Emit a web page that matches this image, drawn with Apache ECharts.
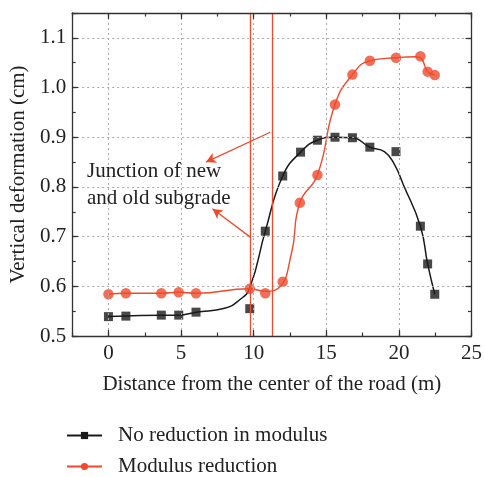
<!DOCTYPE html>
<html>
<head>
<meta charset="utf-8">
<script src="https://cdn.jsdelivr.net/npm/echarts@6/dist/echarts.min.js"></script>
<style>html,body{margin:0;padding:0;background:#fff}#c{width:485px;height:477px}</style>
</head>
<body>
<div id="c"></div>
<script>
// ---- data ----
const seriesNames = ['No reduction in modulus', 'Modulus reduction'];
// measured points
const noRedX = [0, 1.2, 3.64, 4.84, 6.03, 9.73, 10.8, 12.0, 13.23, 14.39, 15.6, 16.8, 18.0, 19.8, 21.48, 21.98, 22.47];
const noRedY = [0.539, 0.540, 0.542, 0.542, 0.548, 0.555, 0.711, 0.822, 0.870, 0.894, 0.900, 0.899, 0.880, 0.871, 0.721, 0.645, 0.584];
const redX = [0, 1.2, 3.64, 4.84, 6.03, 9.73, 10.8, 12.0, 13.18, 14.39, 15.6, 16.8, 18.0, 19.8, 21.48, 21.98, 22.47];
const redY = [0.584, 0.586, 0.586, 0.588, 0.586, 0.595, 0.586, 0.609, 0.768, 0.824, 0.966, 1.026, 1.054, 1.060, 1.063, 1.032, 1.025];
// fitted curves
const noRedFitX = [0, 1.2, 3.64, 4.84, 6.03, 8.0, 9.0, 9.73, 10.8, 12.0, 13.23, 14.39, 15.6, 16.8, 18.0, 19.0, 19.7, 20.3, 21.48, 21.98, 22.47];
const noRedFitY = [0.539, 0.540, 0.542, 0.542, 0.548, 0.556, 0.572, 0.597, 0.711, 0.822, 0.870, 0.894, 0.900, 0.899, 0.880, 0.871, 0.845, 0.805, 0.721, 0.645, 0.584];
const redFitX = [0, 1.2, 3.64, 4.84, 6.03, 9.73, 10.8, 11.7, 12.6, 13.18, 14.39, 15.6, 16.8, 18.0, 19.8, 21.1, 21.48, 21.98, 22.47];
const redFitY = [0.584, 0.586, 0.586, 0.588, 0.586, 0.595, 0.590, 0.596, 0.666, 0.768, 0.824, 0.966, 1.026, 1.054, 1.060, 1.062, 1.060, 1.032, 1.025];
// junction lines (x positions) and annotation
const junctionX = [9.77, 11.25];
const arrowFrom = [[11.14, 0.910], [9.77, 0.699]];
const arrowTo = [[6.71, 0.850], [7.16, 0.756]];
const annotationText = ['Junction of new', 'and old subgrade'];
const xAxisTitle = 'Distance from the center of the road (m)';
const yAxisTitle = 'Vertical deformation (cm)';
const xRange = [-2.5, 25], xTickValues = [0, 5, 10, 15, 20, 25], xMinor = 2.5;
const yRange = [0.5, 1.15], yStep = 0.1, yMinor = 0.05;

const FONT = '"Liberation Serif", "Times New Roman", serif';
const BLACK = '#1a1a1a', RED = '#ef4a2c', AXIS = '#333';
const zip = (a, b) => a.map((v, i) => [v, b[i]]);

function axis(kind, pos, major, showLabel) {
  const r = kind === 'x' ? xRange : yRange;
  const o = {
    type: 'value', position: pos, min: r[0], max: r[1],
    axisLine: { show: major, onZero: false, lineStyle: { color: AXIS, width: 1.3 } },
    axisTick: { show: true, inside: true, length: major ? 6 : 3.5, lineStyle: { color: AXIS, width: 1.2 } },
    axisLabel: { show: showLabel, color: '#222', fontFamily: FONT, fontSize: 21, margin: kind === 'x' ? 7 : 6,
      formatter: kind === 'x' ? (v => String(v)) :
        (v => (Math.abs(v * 10 - Math.round(v * 10)) < 1e-6 ? v.toFixed(1) : '')) },
    splitLine: { show: major && showLabel, lineStyle: { color: '#aaa', type: [2, 3], width: 1 } },
    z: 5
  };
  if (kind === 'x') {
    if (major) {
      o.axisTick.customValues = xTickValues;
      o.axisLabel.customValues = xTickValues;
    } else {
      o.interval = xMinor;
    }
  } else {
    o.interval = major ? yStep : yMinor;
  }
  return o;
}

const xAxes = [
  Object.assign(axis('x', 'bottom', true, true), {
    name: xAxisTitle, nameLocation: 'middle', nameGap: 38,
    nameTextStyle: { fontFamily: FONT, fontSize: 21, color: '#222' }
  }),
  axis('x', 'top', true, false),
  axis('x', 'bottom', false, false),
  axis('x', 'top', false, false)
];
const yAxes = [
  Object.assign(axis('y', 'left', true, true), {
    name: yAxisTitle, nameLocation: 'middle', nameGap: 40,
    nameTextStyle: { fontFamily: FONT, fontSize: 21, color: '#222' }
  }),
  axis('y', 'right', true, false),
  axis('y', 'left', false, false),
  axis('y', 'right', false, false)
];

const legendBase = {
  orient: 'vertical', left: 61, itemWidth: 35, itemHeight: 9,
  textStyle: { fontFamily: FONT, fontSize: 21, color: '#222', padding: [0, 0, 0, 11] },
  selectedMode: false
};

const chart = echarts.init(document.getElementById('c'), null, { renderer: 'canvas' });
chart.setOption({
  animation: false,
  backgroundColor: '#fff',
  grid: { left: 72, top: 13, right: 10, bottom: 141, containLabel: false },
  xAxis: xAxes,
  yAxis: yAxes,
  legend: [
    Object.assign({}, legendBase, { top: 420, data: [seriesNames[0]] }),
    Object.assign({}, legendBase, { top: 451, data: [seriesNames[1]] })
  ],
  series: [
    {
      name: seriesNames[0], type: 'line', data: zip(noRedFitX, noRedFitY),
      smooth: 0.5, symbol: 'rect', showSymbol: false,
      lineStyle: { color: BLACK, width: 1.5 }, itemStyle: { color: BLACK }, z: 3
    },
    {
      name: seriesNames[1], type: 'line', data: zip(redFitX, redFitY),
      smooth: 0.5, symbol: 'circle', showSymbol: false,
      lineStyle: { color: RED, width: 1.4 }, itemStyle: { color: RED }, z: 3,
      markLine: {
        silent: true, symbol: ['none', 'none'], label: { show: false },
        lineStyle: { color: RED, width: 1.3, type: 'solid' },
        data: junctionX.map(v => ({ xAxis: v }))
      }
    },
    {
      name: seriesNames[0], type: 'scatter', data: zip(noRedX, noRedY),
      symbol: 'rect', symbolSize: 9, itemStyle: { color: BLACK }, z: 4
    },
    {
      name: seriesNames[1], type: 'scatter', data: zip(redX, redY),
      symbol: 'circle', symbolSize: 10.5, itemStyle: { color: RED }, z: 4
    },
    {
      type: 'line', data: [], silent: true,
      markLine: {
        silent: true, symbol: ['none', 'arrow'], symbolSize: [8, 10], label: { show: false },
        lineStyle: { color: RED, width: 1.3, type: 'solid' },
        data: arrowFrom.map((f, i) => [{ coord: f }, { coord: arrowTo[i] }])
      }
    }
  ],
  graphic: [{
    type: 'text', left: 87, top: 158,
    style: { text: annotationText.join('\n'), font: '21px ' + FONT, fill: '#222', lineHeight: 27 },
    z: 10
  }]
});
</script>
</body>
</html>
